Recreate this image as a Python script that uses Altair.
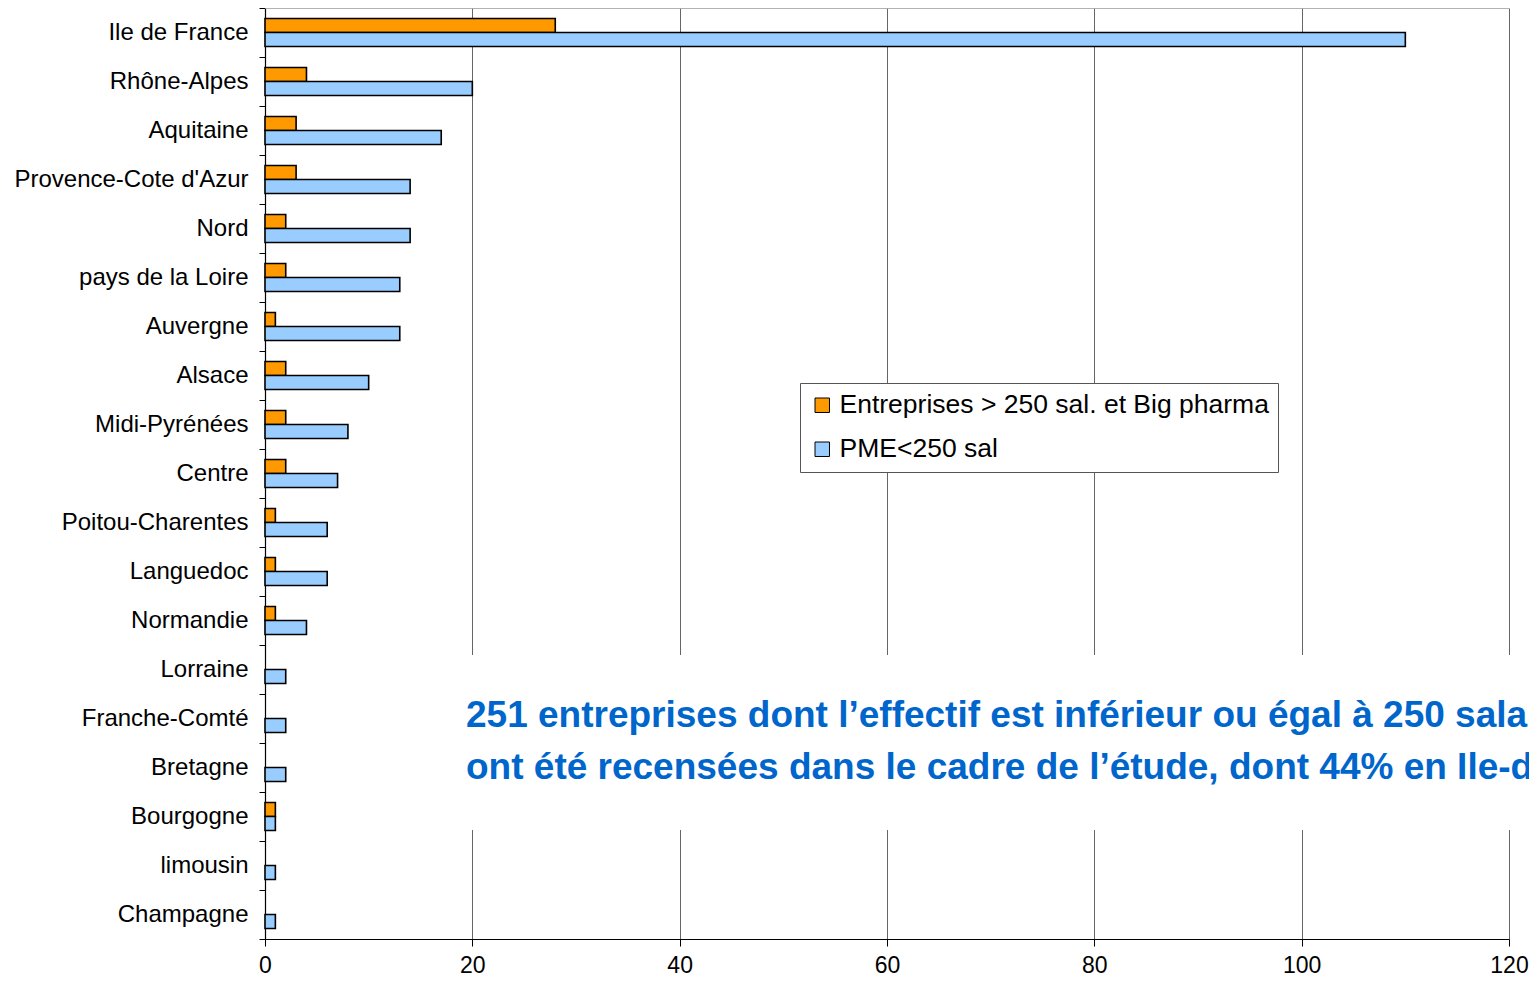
import altair as alt
import pandas as pd

regions = ["Ile de France", "Rhône-Alpes", "Aquitaine", "Provence-Cote d'Azur", "Nord",
           "pays de la Loire", "Auvergne", "Alsace", "Midi-Pyrénées", "Centre",
           "Poitou-Charentes", "Languedoc", "Normandie", "Lorraine", "Franche-Comté",
           "Bretagne", "Bourgogne", "limousin", "Champagne"]
big = [28, 4, 3, 3, 2, 2, 1, 2, 2, 2, 1, 1, 1, 0, 0, 0, 1, 0, 0]
pme = [110, 20, 17, 14, 14, 13, 13, 10, 8, 7, 6, 6, 4, 2, 2, 2, 1, 1, 1]
series = ["Entreprises > 250 sal. et Big pharma", "PME<250 sal"]
colors = ["#FF9900", "#99CCFF"]
x_ticks = [0, 20, 40, 60, 80, 100, 120]
note = ["251 entreprises dont l\u2019effectif est inférieur ou égal à 250 salariés",
        "ont été recensées dans le cadre de l\u2019étude, dont 44% en Ile-de-France"]

rows = []
for r, b, p in zip(regions, big, pme):
    rows.append({"region": r, "series": series[0], "value": b})
    rows.append({"region": r, "series": series[1], "value": p})
df = pd.DataFrame(rows)
one = pd.DataFrame({"k": [0]})

W, H = 1244, 931
FONT = "Liberation Sans"

bars = alt.Chart(df).transform_filter("datum.value > 0").mark_bar(
    stroke="black", strokeWidth=1.6
).encode(
    x=alt.X("value:Q", scale=alt.Scale(domain=[0, 120], nice=False, zero=True),
            axis=alt.Axis(values=x_ticks, title=None, grid=True, gridColor="#666666",
                          gridWidth=1, domainColor="black", domainWidth=1.2,
                          tickColor="black", tickSize=7, labelFontSize=23,
                          labelFont=FONT, labelColor="black", labelPadding=8,
                          labelFlush=False)),
    y=alt.Y("region:N", sort=regions, scale=alt.Scale(paddingInner=0, paddingOuter=0),
            axis=alt.Axis(title=None, tickBand="extent", grid=False, domainColor="black",
                          domainWidth=1.2, tickColor="black", tickSize=6,
                          labelFontSize=24, labelFont=FONT, labelColor="black",
                          labelPadding=11, labelLimit=400)),
    yOffset=alt.YOffset("series:N", sort=series,
                        scale=alt.Scale(paddingInner=0, paddingOuter=0.75)),
    color=alt.Color("series:N", sort=series,
                    scale=alt.Scale(domain=series, range=colors),
                    legend=alt.Legend(title=None, orient="none", legendX=535, legendY=375,
                                      fillColor="white", strokeColor="#555555",
                                      padding=9, labelFontSize=26.5, labelFont=FONT,
                                      labelColor="black", symbolType="square",
                                      symbolSize=210, symbolStrokeColor="black",
                                      symbolStrokeWidth=1, symbolOpacity=1,
                                      rowPadding=17, labelOffset=4, labelLimit=700)),
)

top_border = alt.Chart(one).mark_rule(color="#999999", strokeWidth=1.5).encode(
    x=alt.value(0), x2=alt.value(W), y=alt.value(0)
)

white_box = alt.Chart(one).mark_rect(fill="white").encode(
    x=alt.value(194), x2=alt.value(1400), y=alt.value(647), y2=alt.value(822)
)

text = alt.Chart(one).mark_text(
    align="left", baseline="alphabetic", fontSize=37, fontWeight="bold",
    color="#0066CC", font=FONT, lineHeight=52
).encode(
    x=alt.value(201), y=alt.value(719), text=alt.value(note)
)

chart = alt.layer(white_box, bars, top_border, text).properties(
    width=W, height=H,
    autosize=alt.AutoSizeParams(type="none"),
    padding={"left": 257, "top": 0, "right": 20, "bottom": 38},
    background="white",
).configure_view(strokeWidth=0)

chart.save("out.html", embed_options={"renderer": "svg", "actions": False})
